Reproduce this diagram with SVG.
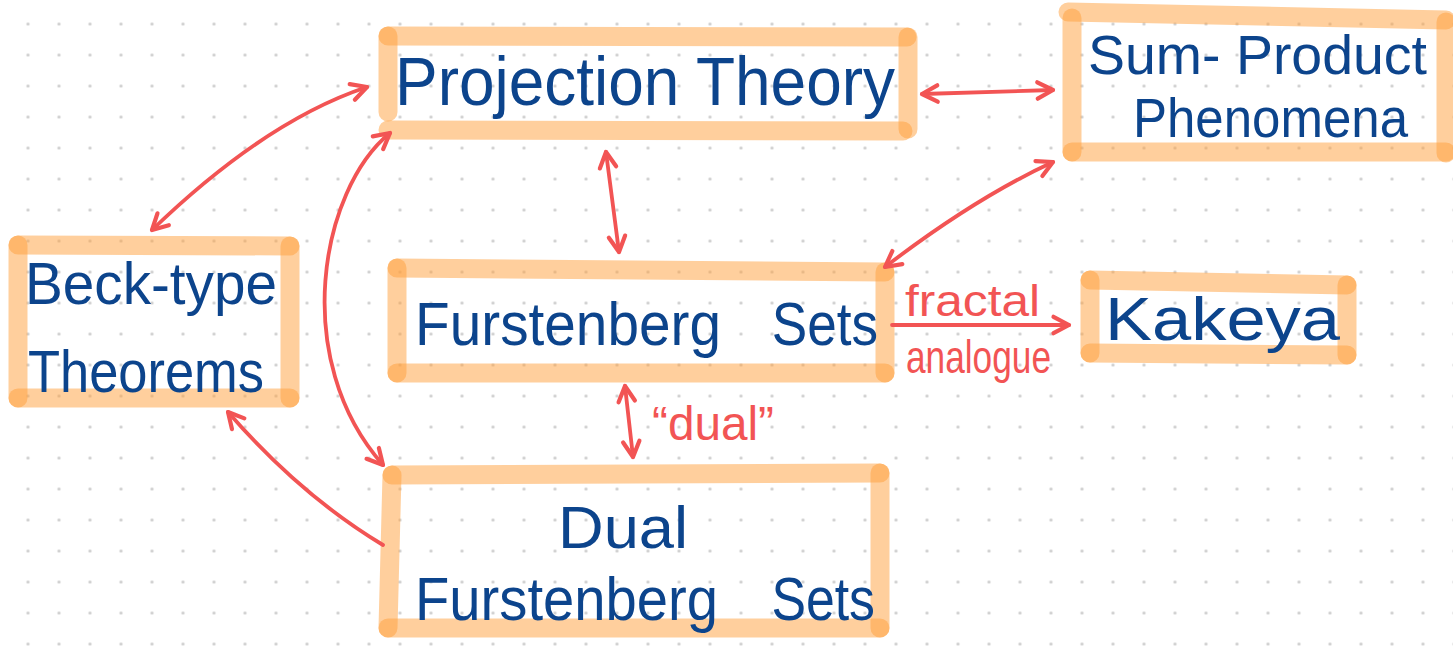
<svg xmlns="http://www.w3.org/2000/svg" width="1453" height="663" viewBox="0 0 1453 663">
<defs>
<pattern id="dots" patternUnits="userSpaceOnUse" x="12.5" y="8.5" width="31" height="31">
<circle cx="15.5" cy="15.5" r="1.6" fill="#cccccc"/>
</pattern>
<marker id="ah" viewBox="0 0 10 10" refX="9" refY="5" markerWidth="4.8" markerHeight="4.8" orient="auto-start-reverse" overflow="visible">
<path d="M0.5,0.5 L9,5 L0.5,9.5" fill="none" stroke="#F25454" stroke-width="2.3" stroke-linecap="round" stroke-linejoin="round"/>
</marker>
</defs>
<style>
.bx line{stroke:#FF9F3C;stroke-opacity:0.5;stroke-width:19;stroke-linecap:round;fill:none}
.t{font-family:"Liberation Sans",Arial,sans-serif;fill:#0C448C}
.r{font-family:"Liberation Sans",Arial,sans-serif;fill:#F25454}
.c{fill:none;stroke:#F25454;stroke-width:3.8;stroke-linecap:round}
</style>
<rect width="1453" height="663" fill="#ffffff"/>
<rect width="1453" height="663" fill="url(#dots)"/>

<g id="projection-theory" class="bx">
<line x1="388" y1="36" x2="907" y2="37"/>
<line x1="388" y1="36" x2="388" y2="112"/>
<line x1="388" y1="130" x2="903" y2="131"/>
<line x1="908" y1="37" x2="908" y2="129"/>
<text class="t" x="395" y="105" font-size="68" textLength="500" lengthAdjust="spacingAndGlyphs">Projection Theory</text>
</g>

<g id="sum-product" class="bx">
<line x1="1068" y1="12" x2="1446" y2="20"/>
<line x1="1072" y1="18" x2="1072" y2="152"/>
<line x1="1072" y1="152" x2="1446" y2="152"/>
<line x1="1446" y1="22" x2="1446" y2="153"/>
<text class="t" x="1088" y="74" font-size="56" textLength="339" lengthAdjust="spacingAndGlyphs">Sum- Product</text>
<text class="t" x="1133" y="137" font-size="56" textLength="275" lengthAdjust="spacingAndGlyphs">Phenomena</text>
</g>

<g id="beck-type" class="bx">
<line x1="18" y1="245" x2="290" y2="246"/>
<line x1="18" y1="245" x2="18" y2="398"/>
<line x1="18" y1="398" x2="290" y2="398"/>
<line x1="290" y1="246" x2="290" y2="398"/>
<text class="t" x="25" y="304" font-size="60" textLength="252" lengthAdjust="spacingAndGlyphs">Beck-type</text>
<text class="t" x="28" y="392" font-size="60" textLength="236" lengthAdjust="spacingAndGlyphs">Theorems</text>
</g>

<g id="furstenberg" class="bx">
<line x1="397" y1="268" x2="885" y2="272"/>
<line x1="397" y1="268" x2="397" y2="373"/>
<line x1="397" y1="373" x2="885" y2="373"/>
<line x1="885" y1="272" x2="885" y2="373"/>
<text class="t" y="345" font-size="62"><tspan x="415" textLength="306" lengthAdjust="spacingAndGlyphs">Furstenberg</tspan><tspan x="757" textLength="121" lengthAdjust="spacingAndGlyphs"> Sets</tspan></text>
</g>

<g id="kakeya" class="bx">
<line x1="1090" y1="280" x2="1347" y2="285"/>
<line x1="1090" y1="280" x2="1090" y2="353"/>
<line x1="1090" y1="353" x2="1347" y2="355"/>
<line x1="1347" y1="285" x2="1347" y2="355"/>
<text class="t" x="1105" y="340" font-size="62" textLength="235" lengthAdjust="spacingAndGlyphs">Kakeya</text>
</g>

<g id="dual-furstenberg" class="bx">
<line x1="392" y1="475" x2="880" y2="473"/>
<line x1="392" y1="475" x2="388" y2="628"/>
<line x1="388" y1="628" x2="880" y2="628"/>
<line x1="880" y1="473" x2="880" y2="628"/>
<text class="t" x="558" y="548" font-size="60" textLength="130" lengthAdjust="spacingAndGlyphs">Dual</text>
<text class="t" y="620" font-size="62"><tspan x="415" textLength="303" lengthAdjust="spacingAndGlyphs">Furstenberg</tspan><tspan x="757" textLength="118" lengthAdjust="spacingAndGlyphs"> Sets</tspan></text>
</g>

<g id="connectors">
<path class="c" d="M152,230 Q265,121 367,87" marker-start="url(#ah)" marker-end="url(#ah)"/>
<path class="c" d="M390,133 C320,190 290,360 383,465" marker-start="url(#ah)" marker-end="url(#ah)"/>
<path class="c" d="M606,152 L619,252" marker-start="url(#ah)" marker-end="url(#ah)"/>
<path class="c" d="M922,94 L1053,90" marker-start="url(#ah)" marker-end="url(#ah)"/>
<path class="c" d="M885,267 Q975,198 1053,162" marker-start="url(#ah)" marker-end="url(#ah)"/>
<path class="c" d="M892,325 L1069,325" marker-end="url(#ah)"/>
<path class="c" d="M625,386 L633,457" marker-start="url(#ah)" marker-end="url(#ah)"/>
<path class="c" d="M383,545 Q300,495 228,412" marker-end="url(#ah)"/>
<text class="r" x="905" y="316" font-size="44" textLength="135" lengthAdjust="spacingAndGlyphs">fractal</text>
<text class="r" x="906" y="373" font-size="46" textLength="145" lengthAdjust="spacingAndGlyphs">analogue</text>
<text class="r" x="652" y="440" font-size="48" textLength="122" lengthAdjust="spacingAndGlyphs">“dual”</text>
</g>
</svg>
